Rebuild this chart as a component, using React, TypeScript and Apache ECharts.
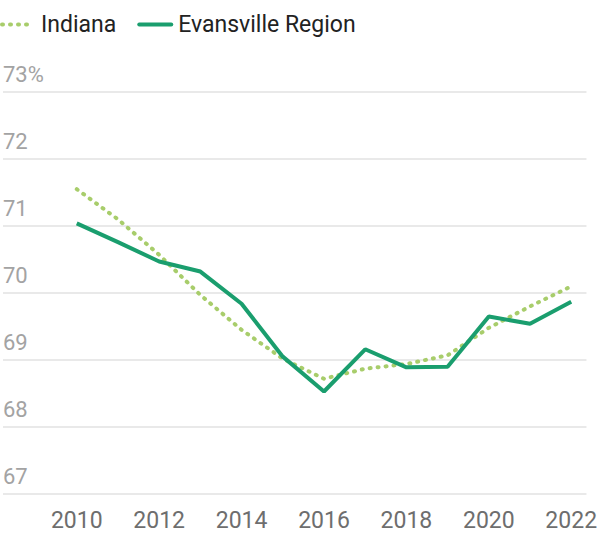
import React, { useEffect, useRef } from "react";
import * as echarts from "echarts";

const years = [2010, 2011, 2012, 2013, 2014, 2015, 2016, 2017, 2018, 2019, 2020, 2021, 2022];
const indiana = [71.55, 71.1, 70.57, 69.97, 69.45, 69.02, 68.72, 68.87, 68.94, 69.07, 69.48, 69.8, 70.1];
const evansville = [71.04, 70.76, 70.47, 70.32, 69.84, 69.05, 68.53, 69.16, 68.89, 68.9, 69.65, 69.54, 69.87];
const xTickLabels = [2010, 2012, 2014, 2016, 2018, 2020, 2022];
const yTicks = [67, 68, 69, 70, 71, 72, 73];

export default function App() {
  const ref = useRef<HTMLDivElement>(null);
  useEffect(() => {
    if (!ref.current) return;
    const chart = echarts.init(ref.current, null, { renderer: "svg" });
    const font = "Roboto, 'Noto Sans', sans-serif";
    chart.setOption({
      animation: false,
      legend: {
        left: 0,
        top: 13,
        padding: 0,
        itemWidth: 32,
        itemHeight: 14,
        itemGap: 21,
        itemStyle: { opacity: 0 },
        lineStyle: { width: 4, cap: "round" },
        textStyle: { fontSize: 23, color: "#222222", fontFamily: font, padding: [0, 0, 0, 2] },
        data: ["Indiana", "Evansville Region"],
      },
      grid: { left: 0, right: 12, top: 92, bottom: 48, containLabel: false },
      xAxis: {
        type: "value",
        min: 2008.21,
        max: 2022.37,
        axisLine: { show: false },
        axisTick: { show: false, customValues: xTickLabels },
        splitLine: { show: false },
        axisLabel: {
          customValues: xTickLabels,
          fontSize: 23,
          color: "#6e6e6e",
          fontFamily: font,
          margin: 15,
          formatter: (v: number) => String(v),
        },
      },
      yAxis: {
        type: "value",
        min: yTicks[0],
        max: yTicks[yTicks.length - 1],
        interval: 1,
        axisLine: { show: false },
        axisTick: { show: false },
        splitLine: { lineStyle: { color: "#e2e2e2", width: 1.5 } },
        axisLabel: {
          inside: true,
          verticalAlign: "bottom",
          margin: 0,
          padding: [0, 0, 7, 0],
          fontSize: 22,
          color: "#a3a3a3",
          fontFamily: font,
          formatter: (v: number) => (v === 73 ? "73%" : String(v)),
        },
      },
      series: [
        {
          name: "Indiana",
          type: "line",
          symbol: "none",
          data: years.map((y, i) => [y, indiana[i]]),
          color: "#a8cd6b",
          lineStyle: { width: 4, type: [1, 7], cap: "round", color: "#a8cd6b" },
          z: 2,
        },
        {
          name: "Evansville Region",
          type: "line",
          symbol: "none",
          data: years.map((y, i) => [y, evansville[i]]),
          color: "#1a9e6e",
          lineStyle: { width: 4, color: "#1a9e6e" },
          z: 3,
        },
      ],
    });
    return () => chart.dispose();
  }, []);
  return (
    <div
      ref={ref}
      style={{ position: "fixed", left: 0, top: 0, width: 600, height: 542, background: "#fff" }}
    />
  );
}
